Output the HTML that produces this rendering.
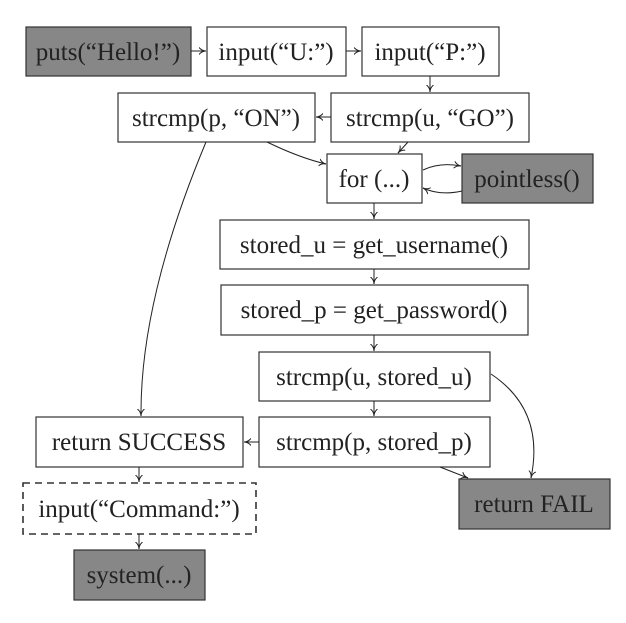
<!DOCTYPE html>
<html><head><style>
html,body{margin:0;padding:0;background:#fff;}
svg{display:block}
</style></head><body>
<svg width="626" height="623" viewBox="0 0 626 623" xmlns="http://www.w3.org/2000/svg">
<defs><marker id="a" markerWidth="8" markerHeight="8" refX="7" refY="4" orient="auto" markerUnits="userSpaceOnUse"><path d="M0,0.5 Q3,4 7,4 Q3,4 0,7.5" fill="none" stroke="#222" stroke-width="1"/></marker></defs>
<g stroke="#333" stroke-width="1.2">
<rect x="26" y="27" width="165" height="49" fill="#878787"/>
<rect x="207" y="27" width="139" height="49" fill="#fff"/>
<rect x="362" y="27" width="137" height="49" fill="#fff"/>
<rect x="118" y="93" width="197" height="49" fill="#fff"/>
<rect x="331" y="93" width="198" height="49" fill="#fff"/>
<rect x="327" y="154" width="95" height="49" fill="#fff"/>
<rect x="462" y="154" width="131" height="49" fill="#878787"/>
<rect x="220" y="220" width="309" height="49" fill="#fff"/>
<rect x="221" y="285" width="307" height="50" fill="#fff"/>
<rect x="259" y="352" width="231" height="49" fill="#fff"/>
<rect x="259" y="417" width="231" height="50" fill="#fff"/>
<rect x="36" y="417" width="207" height="50" fill="#fff"/>
<rect x="23" y="483" width="233" height="51" fill="#fff" stroke-dasharray="7,5" stroke-width="1.6"/>
<rect x="74" y="550" width="131" height="50" fill="#878787"/>
<rect x="459" y="479" width="151" height="50" fill="#878787"/>
</g>
<g stroke="#222" stroke-width="1" fill="none" marker-end="url(#a)">
<line x1="191" y1="51" x2="206" y2="51"/>
<line x1="346" y1="51" x2="361" y2="51"/>
<line x1="430" y1="76" x2="430" y2="92"/>
<line x1="331" y1="117" x2="316" y2="117"/>
<line x1="408" y1="142" x2="398" y2="153"/>
<path d="M267,142 Q300,158 326,164"/>
<path d="M423,170 Q440,162 461,166"/>
<path d="M462,191 Q440,196 423,188"/>
<line x1="374" y1="203" x2="374" y2="219"/>
<line x1="374" y1="269" x2="374" y2="284"/>
<line x1="374" y1="335" x2="374" y2="351"/>
<line x1="374" y1="401" x2="374" y2="416"/>
<line x1="259" y1="442" x2="244" y2="442"/>
<line x1="139" y1="467" x2="139" y2="482"/>
<line x1="139" y1="534" x2="139" y2="549"/>
<path d="M206,142 Q140,300 141,416"/>
<path d="M491,374 Q545,410 531,478"/>
<line x1="440" y1="467" x2="468" y2="478"/>
</g>
<g text-anchor="middle" font-family="'Liberation Serif', 'DejaVu Serif', serif" font-size="25" fill="#222">
<text x="108" y="60">puts(“Hello!”)</text>
<text x="276" y="60">input(“U:”)</text>
<text x="430" y="60">input(“P:”)</text>
<text x="216" y="126">strcmp(p, “ON”)</text>
<text x="430" y="126">strcmp(u, “GO”)</text>
<text x="374" y="187">for (...)</text>
<text x="527" y="187">pointless()</text>
<text x="374" y="253">stored_u = get_username()</text>
<text x="374" y="318">stored_p = get_password()</text>
<text x="374" y="385">strcmp(u, stored_u)</text>
<text x="374" y="450">strcmp(p, stored_p)</text>
<text x="139" y="450">return SUCCESS</text>
<text x="139" y="517">input(“Command:”)</text>
<text x="139" y="583">system(...)</text>
<text x="534" y="512">return FAIL</text>
</g>
</svg>
</body></html>
